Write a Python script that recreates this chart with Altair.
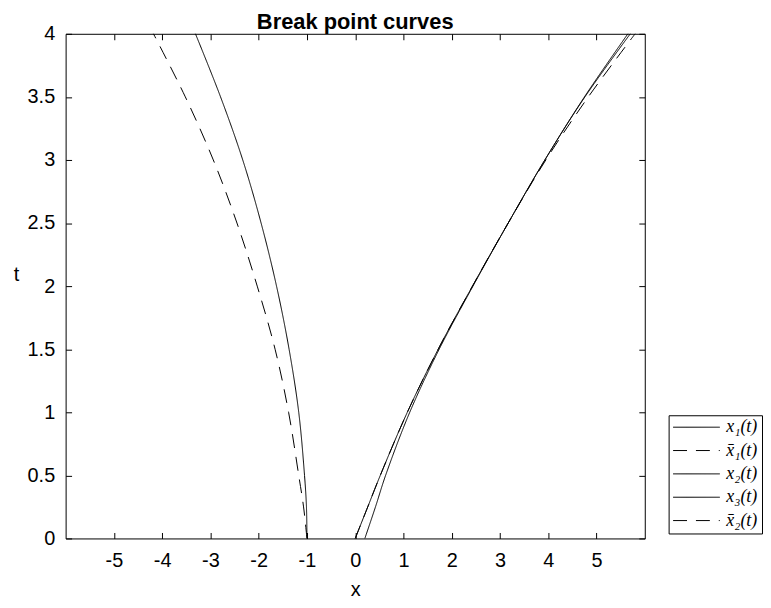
import altair as alt
import pandas as pd

# ---- data ----
series = ["x\u2081(t)", "x\u0304\u2081(t)", "x\u2082(t)", "x\u2083(t)", "x\u0304\u2082(t)"]
dashes = [[1, 0], [14, 9], [1, 0], [1, 0], [14, 9]]

t_x1 = [0, 0.25, 0.5, 1.0, 1.5, 2.0, 2.5, 3.0, 3.5, 4.0]
v_x1 = [-1.00, -1.01, -1.05, -1.17, -1.37, -1.63, -1.95, -2.33, -2.79, -3.31]

t_xb1 = [0, 0.25, 0.5, 1.0, 1.5, 2.0, 2.5, 3.0, 3.5, 4.0]
v_xb1 = [-1.00, -1.07, -1.17, -1.38, -1.66, -2.03, -2.45, -2.94, -3.52, -4.18]

t_x2 = [0, 0.25, 0.5, 1.0, 1.5, 2.0, 2.5, 3.0, 3.5, 4.0]
v_x2 = [0.00, 0.26, 0.52, 1.08, 1.72, 2.43, 3.17, 3.93, 4.75, 5.65]

t_x3 = [0, 0.25, 0.5, 1.0, 1.5, 2.0, 2.5, 3.0, 3.5, 4.0]
v_x3 = [0.20, 0.42, 0.63, 1.13, 1.74, 2.44, 3.17, 3.93, 4.76, 5.70]

t_xb2 = [0, 0.25, 0.5, 1.0, 1.5, 2.0, 2.5, 3.0, 3.5, 4.0]
v_xb2 = [0.00, 0.26, 0.52, 1.08, 1.72, 2.43, 3.17, 3.95, 4.83, 5.80]

xticks = [-5, -4, -3, -2, -1, 0, 1, 2, 3, 4, 5]
yticks = [0, 0.5, 1, 1.5, 2, 2.5, 3, 3.5, 4]

rows = []
for name, ts, xs in zip(series, [t_x1, t_xb1, t_x2, t_x3, t_xb2],
                        [v_x1, v_xb1, v_x2, v_x3, v_xb2]):
    for i, (t, x) in enumerate(zip(ts, xs)):
        rows.append({"series": name, "t": t, "x": x, "i": i})
df = pd.DataFrame(rows)

FONT = "Liberation Sans"
HYPHEN = "replace(datum.label, '\u2212', '-')"
xscale = alt.Scale(domain=[-6, 6], nice=False, zero=False)
yscale = alt.Scale(domain=[0, 4], nice=False, zero=False)

legend = alt.Legend(
    title=None, orient="none", legendX=607, legendY=384,
    symbolType="stroke", symbolSize=2209, symbolStrokeWidth=1,
    clipHeight=16, rowPadding=5.5, padding=4, labelOffset=6,
    labelFont="Liberation Serif", labelFontStyle="italic", labelFontSize=18,
    labelColor="black", strokeColor="black", fillColor="white",
)

base = alt.Chart(df)

lines = base.mark_line(strokeWidth=1, interpolate="catmull-rom").encode(
    x=alt.X("x:Q", scale=xscale, axis=alt.Axis(
        orient="bottom", values=xticks, ticks=False, domain=False, grid=False,
        labelExpr=HYPHEN,
        labelFont=FONT, labelFontSize=20, labelColor="black", labelPadding=12,
        title="x", titleFont=FONT, titleFontSize=20, titleFontWeight="normal",
        titleColor="black", titlePadding=9)),
    y=alt.Y("t:Q", scale=yscale, axis=alt.Axis(
        orient="left", values=yticks, ticks=False, domain=False, grid=False,
        format="~g", labelFont=FONT, labelFontSize=20, labelColor="black",
        labelPadding=11, title="t", titleFont=FONT, titleFontSize=20,
        titleFontWeight="normal", titleColor="black", titleAngle=0,
        titleAlign="center", titleBaseline="middle", titleX=-50, titleY=242)),
    color=alt.Color("series:N", scale=alt.Scale(domain=series, range=["black"] * 5), legend=legend),
    strokeDash=alt.StrokeDash("series:N", scale=alt.Scale(domain=series, range=dashes), legend=legend),
    order=alt.Order("i:Q"),
)

ticks_bl = base.mark_point(opacity=0).encode(
    x=alt.X("x:Q", scale=xscale, axis=alt.Axis(
        orient="bottom", values=xticks, labels=False, domain=False, grid=False,
        tickSize=6, offset=-6, tickColor="black", title=None)),
    y=alt.Y("t:Q", scale=yscale, axis=alt.Axis(
        orient="left", values=yticks, labels=False, domain=False, grid=False,
        tickSize=6, offset=-6, tickColor="black", title=None)),
)

ticks_tr = base.mark_point(opacity=0).encode(
    x=alt.X("x:Q", scale=xscale, axis=alt.Axis(
        orient="top", values=xticks, labels=False, domain=False, grid=False,
        tickSize=6, offset=-6, tickColor="black", title=None)),
    y=alt.Y("t:Q", scale=yscale, axis=alt.Axis(
        orient="right", values=yticks, labels=False, domain=False, grid=False,
        tickSize=6, offset=-6, tickColor="black", title=None)),
)

chart = alt.layer(lines, ticks_bl, ticks_tr).resolve_axis(
    x="independent", y="independent"
).properties(
    width=583, height=508,
    title=alt.TitleParams("Break point curves", font=FONT, fontSize=22,
                          fontWeight="bold", color="black", anchor="middle", offset=-10),
    padding={"left": 5, "top": 1, "right": 0, "bottom": 0},
).configure_view(stroke="black", strokeWidth=1)

chart.save("out.html", embed_options={"renderer": "svg", "actions": False})
